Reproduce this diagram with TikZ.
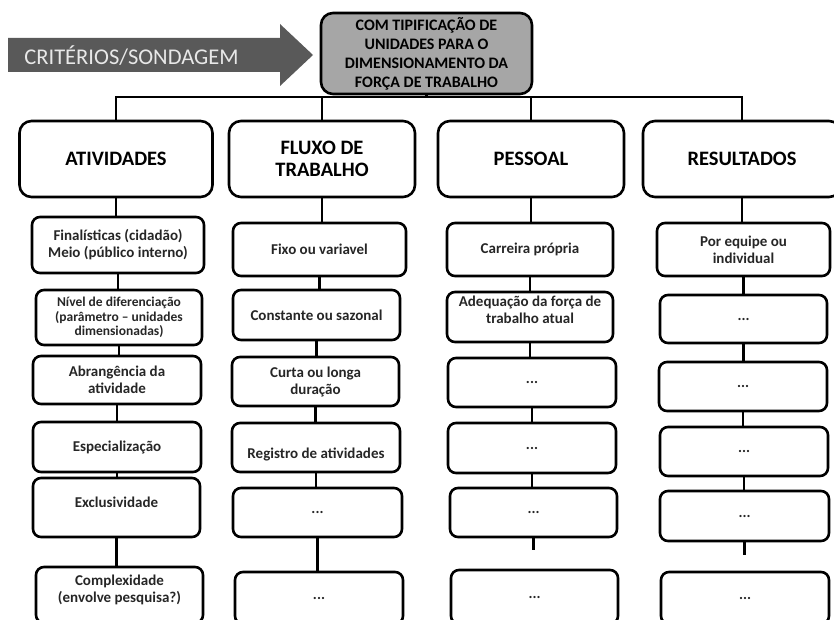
\documentclass[tikz,border=0pt]{standalone}
\usepackage{fontspec}
\setmainfont{Carlito}
\definecolor{arrowgray}{RGB}{89,89,89}
\definecolor{topgray}{RGB}{166,166,166}
\definecolor{arrowtext}{RGB}{232,232,232}

\begin{document}
\begin{tikzpicture}[x=1pt,y=-1pt,line width=2.6pt,
  topbox/.style={draw,fill=topgray,rounded corners=12pt,inner sep=0pt,align=center,
    font=\fontsize{16}{19}\selectfont\bfseries,minimum width=211pt,minimum height=81pt},
  hdr/.style={draw,rounded corners=12pt,inner sep=0pt,align=center,
    font=\fontsize{20.5}{22}\selectfont\bfseries,minimum height=76pt},
  sub/.style={draw,rounded corners=8pt,inner sep=0pt,align=center,text=black!85,
    font=\fontsize{15}{17}\selectfont\bfseries}]
        \useasboundingbox (0,0) rectangle (834,620);
        %#####################################################
        % arrow and top box
        \fill[arrowgray] (8,38) -- (280,38) -- (280,24) -- (313,55) -- (280,86) -- (280,72) -- (8,72) -- cycle;
        \node[text=arrowtext,font=\fontsize{22.5}{24}\selectfont] (crit) at (131.5,56) {CRITÉRIOS/SONDAGEM};
        \node[topbox] (top) at (426.5,53.5) {COM TIPIFICAÇÃO DE\\UNIDADES PARA O\\DIMENSIONAMENTO DA\\FORÇA DE TRABALHO};
        %#####################################################
        % headers
        \node[hdr,minimum width=193pt] (h1) at (116,159) {ATIVIDADES};
        \node[hdr,minimum width=186pt] (h2) at (322,159) {FLUXO DE\\TRABALHO};
        \node[hdr,minimum width=186pt] (h3) at (531,159) {PESSOAL};
        \node[hdr,minimum width=198pt] (h4) at (742,159) {RESULTADOS};
        \coordinate (bus) at (420,97);
        \draw (top.south) -- (top.south |- bus);
        \draw (h1.north) |- (bus) -| (h4.north);
        \foreach \h in {h2,h3}{
        \draw (\h.north) -- (\h.north |- bus);
        }
        %#####################################################
        % ATIVIDADES
        \node[sub,minimum width=172pt,minimum height=56pt] (a1) at (118,245) {Finalísticas (cidadão)\\Meio (público interno)};
        \node[sub,minimum width=166pt,minimum height=55pt,font=\fontsize{13.5}{14.5}\selectfont\bfseries] (a2) at (119,317.5) {Nível de diferenciação\\(parâmetro – unidades\\dimensionadas)};
        \node[sub,minimum width=168pt,minimum height=48pt] (a3) at (117,380) {Abrangência da\\atividade};
        \node[sub,minimum width=168pt,minimum height=50pt] (a4) at (117,447) {Especialização};
        \node[sub,minimum width=167pt,minimum height=59pt,text depth=11pt] (a5) at (116.5,507.5) {Exclusividade};
        \node[sub,minimum width=167pt,minimum height=56pt] (a6) at (119.5,595) {Complexidade\\(envolve pesquisa?)\\[-4pt]\mbox{}};
        %#####################################################
        % FLUXO DE TRABALHO
        \node[sub,minimum width=173pt,minimum height=53pt] (b1) at (319.5,249.5) {Fixo ou variavel};
        \node[sub,minimum width=167pt,minimum height=50pt] (b2) at (316.5,315) {Constante ou sazonal};
        \node[sub,minimum width=167pt,minimum height=49pt] (b3) at (315.5,381.5) {Curta ou longa\\duração};
        \node[sub,minimum width=168pt,minimum height=49pt,text height=24pt] (b4) at (316,447.5) {Registro de atividades};
        \node[sub,minimum width=169pt,minimum height=49pt] (b5) at (317.5,512.5) {...};
        \node[sub,minimum width=168pt,minimum height=52pt] (b6) at (319,598) {...};
        %#####################################################
        % PESSOAL
        \node[sub,minimum width=166pt,minimum height=53pt] (c1) at (530,249.5) {Carreira própria};
        \node[sub,minimum width=166pt,minimum height=50pt] (c2) at (530,317) {Adequação da força de\\trabalho atual\\[-3pt]\mbox{}};
        \node[sub,minimum width=168pt,minimum height=49pt] (c3) at (532,382.5) {...};
        \node[sub,minimum width=168pt,minimum height=50pt] (c4) at (532,448) {...};
        \node[sub,minimum width=167pt,minimum height=49pt] (c5) at (533.5,512.5) {...};
        \node[sub,minimum width=167pt,minimum height=54pt] (c6) at (534.5,597) {...};
        %#####################################################
        % RESULTADOS
        \node[sub,minimum width=173pt,minimum height=53pt] (d1) at (743.5,249.5) {Por equipe ou\\individual};
        \node[sub,minimum width=167pt,minimum height=48pt] (d2) at (743.5,319) {...};
        \node[sub,minimum width=168pt,minimum height=49pt] (d3) at (743,386.5) {...};
        \node[sub,minimum width=168pt,minimum height=49pt] (d4) at (744,451.5) {...};
        \node[sub,minimum width=169pt,minimum height=50pt] (d5) at (744.5,516) {...};
        \node[sub,minimum width=168pt,minimum height=52pt] (d6) at (745,598) {...};
        %#####################################################
        % connectors
        \foreach \c/\h in {a/h1,b/h2,c/h3,d/h4}{
        \draw (\h.south) -- (\h.south |- \c1.north);
        }
        \foreach \c in {a,b}
        \foreach \i/\j in {1/2,2/3,3/4,4/5,5/6}{
        \draw (\c\i.south) -- (\c\i.south |- \c\j.north);
        }
        \foreach \c in {c,d}
        \foreach \i/\j in {1/2,2/3,3/4,4/5}{
        \draw (\c\i.south) -- (\c\i.south |- \c\j.north);
        }
        \coordinate (cstub) at (530,550);
        \coordinate (dstub) at (749,555);
        \draw (c5.south) -- (c5.south |- cstub);
        \draw (d5.south) -- (d5.south |- dstub);
\end{tikzpicture}
\end{document}
